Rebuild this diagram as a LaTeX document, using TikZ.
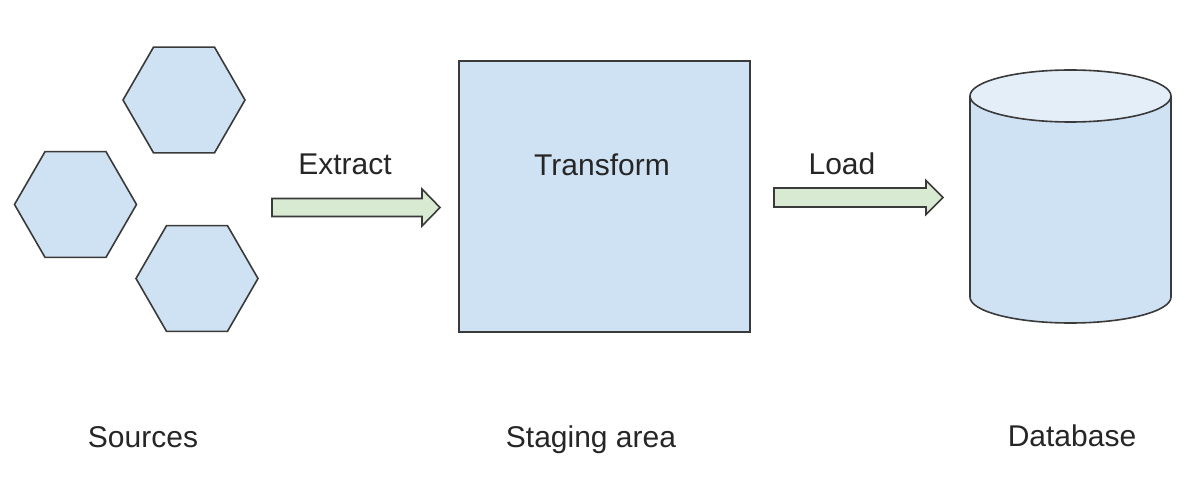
\documentclass[tikz,border=0pt]{standalone}
\usepackage{fontspec}
\setmainfont{Liberation Sans}
\usetikzlibrary{shapes.geometric}
\definecolor{fillblue}{HTML}{CFE2F3}
\definecolor{topblue}{HTML}{E3EEF8}
\definecolor{fillgreen}{HTML}{D9EAD3}
\definecolor{edgecol}{HTML}{3A3A3A}
\begin{document}
\begin{tikzpicture}[x=0.5pt,y=-0.5pt,
  hexa/.style={regular polygon, regular polygon sides=6, minimum size=61pt, inner sep=0pt, outer sep=0pt, draw=edgecol, fill=fillblue, line width=0.8pt},
  stagebox/.style={draw=edgecol, fill=fillblue, line width=1pt, minimum width=145.5pt, minimum height=135.5pt, inner sep=0pt},
  blockarrow/.style={draw=edgecol, fill=fillgreen, line width=0.8pt, line join=miter},
  lbl/.style={font=\fontsize{15pt}{18pt}\selectfont, text=black!85, inner sep=0pt},
  dbside/.style={draw=edgecol, line width=0.8pt}]
\useasboundingbox (0,0) rectangle (1200,481);
% sources
\node[hexa] (s1) at (184,100) {};
\node[hexa] (s2) at (75.5,204.5) {};
\node[hexa] (s3) at (197,278.5) {};
% staging box
\node[stagebox] (stage) at (604.5,196.5) {};
\node[lbl] (transform) at (602,165) {Transform};
% extract arrow
\draw[blockarrow] (272,198.5) -- (422,198.5) -- (422,189) -- (440,207.5) -- (422,226) -- (422,216.5) -- (272,216.5) -- cycle;
\node[lbl, anchor=base] (extract) at (345,175) {Extract};
% load arrow
\draw[blockarrow] (774,188) -- (926,188) -- (926,180.5) -- (943,197.5) -- (926,214.5) -- (926,207) -- (774,207) -- cycle;
\node[lbl, anchor=base] (load) at (842,175) {Load};
% database cylinder
\coordinate (dbtop) at (1070.5,96);
\coordinate (dbbot) at (1070.5,297);
\fill[fillblue] (970,96) -- (970,297) arc[start angle=180, end angle=0, x radius=100.5, y radius=26] -- (1171,96) -- cycle;
\draw[dbside] (970,96) -- (970,297) arc[start angle=180, end angle=0, x radius=100.5, y radius=26] -- (1171,96);
\draw[dbside, fill=topblue] (dbtop) ellipse[x radius=100.5, y radius=26];
% labels
\node[lbl, anchor=base] (sources) at (143,447) {Sources};
\node[lbl, anchor=base] (staging) at (591,447) {Staging area};
\node[lbl, anchor=base] (database) at (1072,446) {Database};
\end{tikzpicture}
\end{document}
